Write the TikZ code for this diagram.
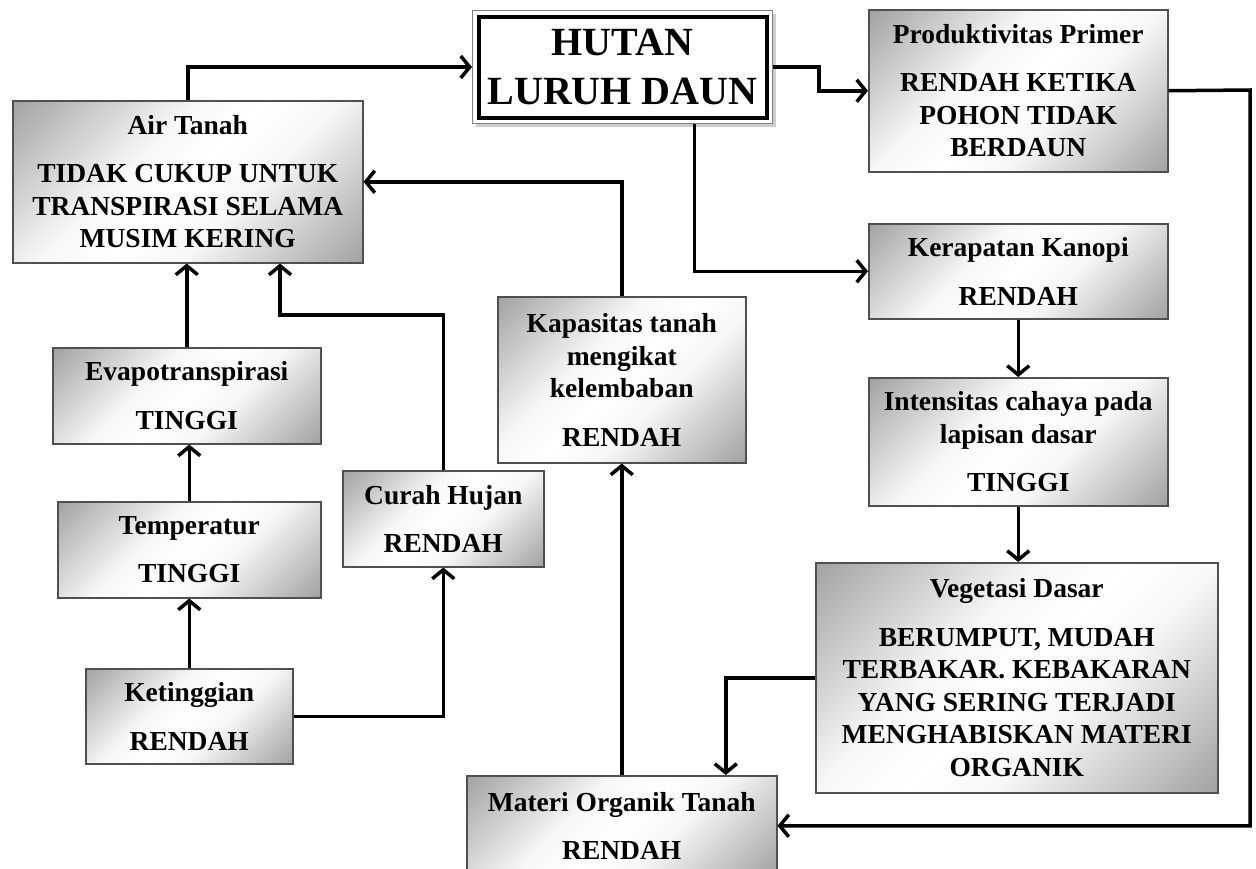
\documentclass[tikz,border=0pt]{standalone}
\usepackage{fontspec}
\setmainfont{Liberation Serif}
\usetikzlibrary{arrows.meta,calc}
\definecolor{boxedge}{HTML}{505050}
\pgfdeclareverticalshading{gshade}{100bp}{rgb(0bp)=(0.62,0.62,0.62); rgb(15bp)=(0.64,0.64,0.64); rgb(40bp)=(0.97,0.97,0.97); rgb(50bp)=(1,1,1); rgb(60bp)=(0.97,0.97,0.97); rgb(85bp)=(0.64,0.64,0.64); rgb(100bp)=(0.62,0.62,0.62)}
\tikzset{
  gbox/.style={draw=boxedge, line width=1.5pt, anchor=north west, inner sep=0pt,
    align=center, font=\bfseries\fontsize{27.5}{32.5}\selectfont,
    shade, shading=gshade, shading angle=45},
  conn/.style={line width=3.5pt, draw=black},
  arr/.style={conn, -{Straight Barb[length=9pt,width=22pt]}},
}
\newcommand{\gap}{\\[16pt]}
\begin{document}
\begin{tikzpicture}[x=1pt,y=-1pt]
\useasboundingbox (0,0) rectangle (1256,868);
% boxes
\node[gbox, minimum width=350pt, minimum height=162pt] (air) at (12,100)
  {Air Tanah\gap TIDAK CUKUP UNTUK\\TRANSPIRASI SELAMA\\MUSIM KERING};
\fill[gray!40] (476,14) rectangle (776,127);
\node[draw=gray, fill=white, line width=1pt, anchor=north west, minimum width=300pt, minimum height=113pt, inner sep=0pt] (hutan) at (472,10) {};
\node[draw=black, line width=4pt, fill=white, minimum width=288pt, minimum height=101pt, inner sep=0pt,
  align=center, font=\bfseries\fontsize{40}{49}\selectfont] (hutanin) at (hutan.center) {HUTAN\\LURUH DAUN};
\node[gbox, minimum width=299pt, minimum height=162pt] (prod) at (868,9)
  {Produktivitas Primer\gap RENDAH KETIKA\\POHON TIDAK\\BERDAUN};
\node[gbox, minimum width=299pt, minimum height=95pt] (ker) at (868,223)
  {Kerapatan Kanopi\gap RENDAH};
\node[gbox, minimum width=299pt, minimum height=128pt] (int) at (868,377)
  {Intensitas cahaya pada\\lapisan dasar\gap TINGGI};
\node[gbox, minimum width=402pt, minimum height=230pt] (veg) at (815,562)
  {Vegetasi Dasar\gap BERUMPUT, MUDAH\\TERBAKAR. KEBAKARAN\\YANG SERING TERJADI\\MENGHABISKAN MATERI\\ORGANIK};
\node[gbox, minimum width=310pt, minimum height=100pt] (mat) at (466,775)
  {Materi Organik Tanah\gap RENDAH};
\node[gbox, minimum width=248pt, minimum height=166pt] (kap) at (497,296)
  {Kapasitas tanah\\mengikat\\kelembaban\gap RENDAH};
\node[gbox, minimum width=268pt, minimum height=96pt] (evap) at (52,347)
  {Evapotranspirasi\gap TINGGI};
\node[gbox, minimum width=263pt, minimum height=96pt] (temp) at (57,501)
  {Temperatur\gap TINGGI};
\node[gbox, minimum width=207pt, minimum height=95pt] (ket) at (85,668)
  {Ketinggian\gap RENDAH};
\node[gbox, minimum width=201pt, minimum height=96pt] (cur) at (342,470)
  {Curah Hujan\gap RENDAH};
% connectors
\draw[arr] (air.north) |- (hutan.west);
\draw[arr] (hutan.east) -- ++(46,0) |- (prod.west);
\draw[arr] ($(hutan.south)+(72,0)$) |- (ker.west);
\draw[arr] (kap.north) |- (air.east);
\draw[arr] (evap.north) -- (evap.north |- air.south);
\draw[arr] (temp.north) -- (temp.north |- evap.south);
\draw[arr] (ket.north) -- (ket.north |- temp.south);
\coordinate (c1) at (280,315);
\draw[arr] (cur.north) |- (c1) -- (c1 |- air.south);
\draw[arr] (ket.east) -| (cur.south);
\draw[arr] (mat.north) -- (mat.north |- kap.south);
\draw[arr] (ker.south) -- (ker.south |- int.north);
\draw[arr] (int.south) -- (int.south |- veg.north);
\draw[arr] (veg.west) -| ($(mat.north)+(104,0)$);
\coordinate (c2) at (1250,90);
\draw[arr] (prod.east) -- (c2) |- (mat.east);
\end{tikzpicture}
\end{document}
